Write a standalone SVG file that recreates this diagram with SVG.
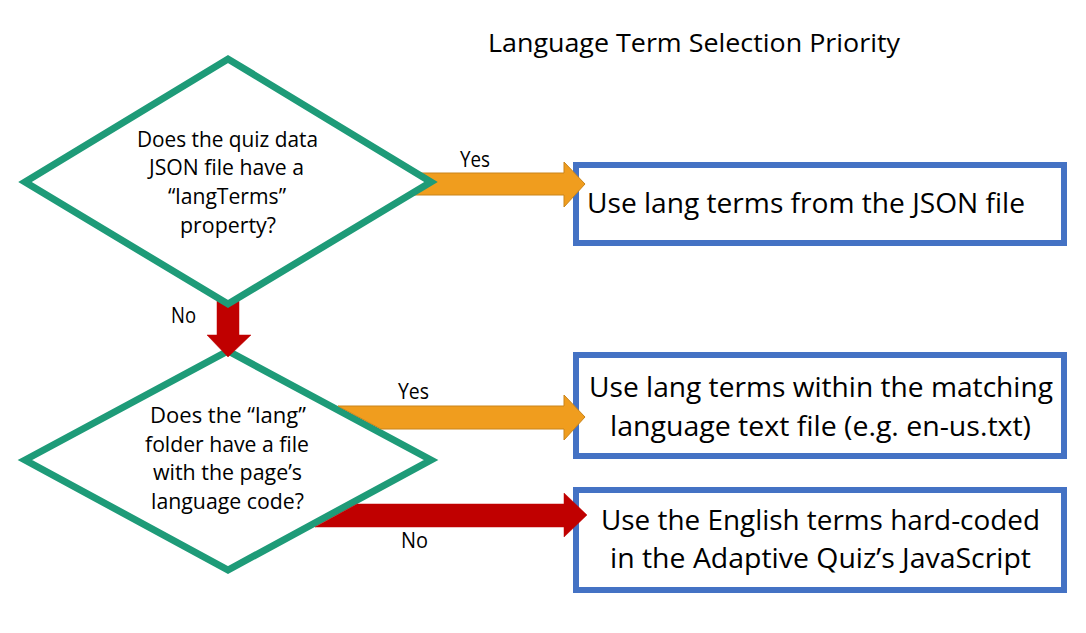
<svg xmlns="http://www.w3.org/2000/svg" width="1086" height="633" viewBox="0 0 1086 633">
<style>
text{font-family:"Open Sans","Noto Sans","Liberation Sans",sans-serif;fill:#000;}
.dia{fill:#fff;stroke:#1E9B78;stroke-width:7;stroke-linejoin:miter;stroke-miterlimit:10}
.box{fill:#fff;stroke:#4472C4;stroke-width:6}
.dt{font-size:22px;text-anchor:middle}
.bt{font-size:28px;text-anchor:middle}
.lb{font-size:21px}
.org{fill:#F09D1E;stroke:#C9841A;stroke-width:1}
.red{fill:#C00000;stroke:#C00000;stroke-width:0.5}
</style>
<rect width="1086" height="633" fill="#fff"/>
<text id="title" x="694" y="52" font-size="25" text-anchor="middle" textLength="412" lengthAdjust="spacingAndGlyphs">Language Term Selection Priority</text>

<g id="box1">
<rect class="box" x="576" y="165" width="488" height="78"/>
<text x="587" y="213" font-size="28" textLength="438" lengthAdjust="spacingAndGlyphs">Use lang terms from the JSON file</text>
</g>
<g id="box2">
<rect class="box" x="576" y="355" width="488" height="101"/>
<text class="bt" x="821" y="397" textLength="464" lengthAdjust="spacingAndGlyphs">Use lang terms within the matching</text>
<text class="bt" x="820.5" y="436" textLength="421" lengthAdjust="spacingAndGlyphs">language text file (e.g. en-us.txt)</text>
</g>
<g id="box3">
<rect class="box" x="576" y="490" width="488" height="100"/>
<text class="bt" x="820.5" y="530" textLength="439" lengthAdjust="spacingAndGlyphs">Use the English terms hard-coded</text>
<text class="bt" x="820.5" y="568" textLength="421" lengthAdjust="spacingAndGlyphs">in the Adaptive Quiz’s JavaScript</text>
</g>

<g id="decision2">
<polygon class="dia" points="25,460 228,351 431,460 228,570"/>
<text class="dt" x="228" y="423" textLength="156" lengthAdjust="spacingAndGlyphs">Does the “lang”</text>
<text class="dt" x="227" y="452" textLength="164" lengthAdjust="spacingAndGlyphs">folder have a file</text>
<text class="dt" x="227.5" y="480" textLength="149" lengthAdjust="spacingAndGlyphs">with the page’s</text>
<text class="dt" x="227.5" y="509" textLength="153" lengthAdjust="spacingAndGlyphs">language code?</text>
</g>

<g id="connectors">
<polygon class="org" points="400,173 564,173 564,162 585,184 564,207 564,195 400,195"/>
<polygon class="org" points="338,406 564,406 564,395 585,417 564,440 564,429 381,429"/>
<polygon class="red" points="357,504 564,504 564,493 587,515 564,537 564,527 315,527"/>
<polygon class="red" points="217,290 239,290 239,335 251,335 228,357 207,335 217,335"/>
<text class="lb" x="460" y="167" textLength="30" lengthAdjust="spacingAndGlyphs">Yes</text>
<text class="lb" x="171" y="323" textLength="25" lengthAdjust="spacingAndGlyphs">No</text>
<text class="lb" x="398" y="399" textLength="31" lengthAdjust="spacingAndGlyphs">Yes</text>
<text class="lb" x="401" y="548" textLength="27" lengthAdjust="spacingAndGlyphs">No</text>
</g>

<g id="decision1">
<polygon class="dia" points="25,182 228,59 431,182 228,304"/>
<text class="dt" x="227.5" y="147" textLength="181" lengthAdjust="spacingAndGlyphs">Does the quiz data</text>
<text class="dt" x="226.5" y="175" textLength="155" lengthAdjust="spacingAndGlyphs">JSON file have a</text>
<text class="dt" x="227" y="204" textLength="118" lengthAdjust="spacingAndGlyphs">“langTerms”</text>
<text class="dt" x="228" y="233" textLength="96" lengthAdjust="spacingAndGlyphs">property?</text>
</g>
</svg>
